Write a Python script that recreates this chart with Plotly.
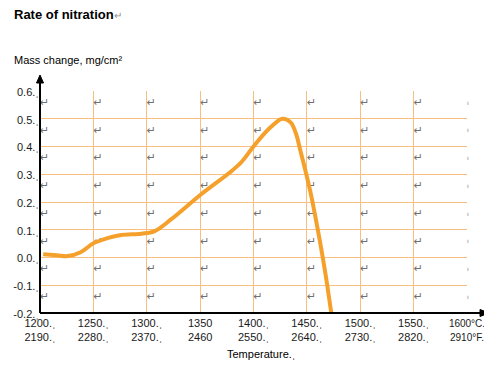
import plotly.graph_objects as go

# ---- data ----
temp_c = [1203, 1216, 1226, 1238, 1250, 1264, 1276, 1295, 1307, 1323, 1351, 1379,
          1389, 1400, 1414, 1427, 1435, 1440, 1444, 1449, 1454, 1460, 1465, 1469, 1474]
mass_change = [0.012, 0.008, 0.005, 0.019, 0.051, 0.071, 0.081, 0.086, 0.094, 0.138,
               0.228, 0.31, 0.345, 0.40, 0.462, 0.50, 0.486, 0.444, 0.384, 0.307,
               0.224, 0.105, -0.003, -0.098, -0.23]

x_ticks = [1200, 1250, 1300, 1350, 1400, 1450, 1500, 1550, 1600]
x_labels_c = ["1200.ˌ", "1250.ˌ", "1300.ˌ", "1350", "1400.ˌ", "1450.ˌ", "1500.ˌ", "1550.ˌ", "1600°C."]
x_labels_f = ["2190.ˌ", "2280.ˌ", "2370.ˌ", "2460", "2550.ˌ", "2640.ˌ", "2730.ˌ", "2820.ˌ", "2910°F."]

y_ticks = [0.6, 0.5, 0.4, 0.3, 0.2, 0.1, 0.0, -0.1, -0.2]
y_labels = ["0.6.ˌ", "0.5.ˌ", "0.4.ˌ", "0.3.ˌ", "0.2.ˌ", "0.1.ˌ", "0.0.ˌ", "-0.1.ˌ", "-0.2.ˌ"]

# the page body has an 8px margin, so the figure is drawn 8px in from the window edge
W, H = 484, 359
L, R, T, B = 32, 25, 83, 54
FONT = "Liberation Sans, Arial, sans-serif"
GRID = "#F9BF80"
CURVE = "#F6A02C"

fig = go.Figure()

# paragraph marks in each table cell (built from tick arrays)
mx, my, ex, ey = [], [], [], []
for xv in x_ticks[:-1]:
    for yv in y_ticks[:-1]:
        mx.append(xv)
        my.append(yv - 0.044)
for yv in y_ticks[:-1]:
    ex.append(x_ticks[-1])
    ey.append(yv - 0.044)
fig.add_trace(go.Scatter(
    x=mx, y=my, mode="text", text=["↵"] * len(mx), textposition="middle right",
    textfont=dict(family="DejaVu Sans", size=11, color="#707070"),
    hoverinfo="skip", showlegend=False, cliponaxis=False))
fig.add_trace(go.Scatter(
    x=ex, y=ey, mode="text", text=["ı"] * len(ex), textposition="middle right",
    textfont=dict(family="DejaVu Sans", size=6, color="#707070"),
    hoverinfo="skip", showlegend=False, cliponaxis=False))

fig.add_trace(go.Scatter(
    x=temp_c, y=mass_change, mode="lines",
    line=dict(color=CURVE, width=4, shape="spline", smoothing=0.9),
    showlegend=False, hoverinfo="skip"))


def xlab(c, f):
    if "°" in c:
        return f"<span style='font-size:10px'>{c}<br>{f}</span>"
    return f"{c}<br>{f}"


fig.update_layout(
    width=W, height=H,
    margin=dict(l=L, r=R, t=T, b=B, autoexpand=False),
    paper_bgcolor="white", plot_bgcolor="white",
    font=dict(family=FONT, size=11, color="#1a1a1a"),
    xaxis=dict(range=[1200, 1600], tickvals=x_ticks, automargin=False,
               ticktext=[xlab(c, f) for c, f in zip(x_labels_c, x_labels_f)],
               ticklabelstandoff=2,
               showgrid=True, gridcolor=GRID, gridwidth=1, zeroline=False,
               showline=False, ticks="", tickfont=dict(size=11, color="#1a1a1a")),
    yaxis=dict(range=[-0.2, 0.6], tickvals=y_ticks, ticktext=y_labels, automargin=False,
               ticklabelshift=1,
               showgrid=True, gridcolor=GRID, gridwidth=1, zeroline=False,
               showline=False, ticks="", tickfont=dict(size=11, color="#1a1a1a")),
)

pw, ph = W - L - R, H - T - B
# axes with arrowheads
fig.add_shape(type="line", xref="paper", yref="paper", x0=0, y0=0, x1=0, y1=1 + 12 / ph,
              line=dict(color="black", width=2))
fig.add_shape(type="path", xref="paper", yref="paper",
              path=f"M 0 {1 + 16 / ph} L {-3.5 / pw} {1 + 8 / ph} L {3.5 / pw} {1 + 8 / ph} Z",
              fillcolor="black", line=dict(color="black", width=1))
fig.add_shape(type="line", xref="paper", yref="paper", x0=0, y0=0, x1=1 + 15 / pw, y1=0,
              line=dict(color="black", width=2))
fig.add_shape(type="path", xref="paper", yref="paper",
              path=f"M {1 + 22 / pw} 0 L {1 + 13 / pw} {3.5 / ph} L {1 + 13 / pw} {-3.5 / ph} Z",
              fillcolor="black", line=dict(color="black", width=1))

# texts
fig.add_annotation(text="<b>Rate of nitration</b><span style='color:#909090;font-size:10px'>↵</span>",
                   xref="paper", yref="paper", x=-28 / pw, y=1 + 76 / ph,
                   xanchor="left", yanchor="middle", showarrow=False,
                   font=dict(family=FONT, size=13, color="black"))
fig.add_annotation(text="Mass change, mg/cm²",
                   xref="paper", yref="paper", x=-28 / pw, y=1 + 31 / ph,
                   xanchor="left", yanchor="middle", showarrow=False,
                   font=dict(family=FONT, size=11, color="black"))
fig.add_annotation(text="Temperature.ˌ",
                   xref="paper", yref="paper", x=(261 - 40) / pw, y=-41 / ph,
                   xanchor="center", yanchor="middle", showarrow=False,
                   font=dict(family=FONT, size=11, color="black"))

fig.write_html("out.html")
